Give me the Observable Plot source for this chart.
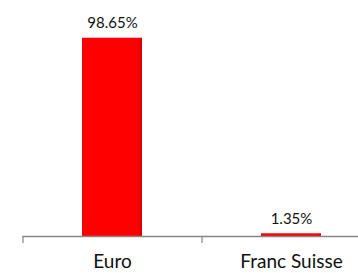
<!DOCTYPE html>
<html>
<head>
<meta charset="utf-8">
<script src="https://cdn.jsdelivr.net/npm/d3@7"></script>
<script src="https://cdn.jsdelivr.net/npm/@observablehq/plot@0.6"></script>
<style>
  html, body { margin: 0; padding: 0; background: #fff; overflow: hidden; width: 358px; height: 273px; }
  svg { max-width: none !important; }
</style>
</head>
<body>
<div id="chart"></div>
<script>
const categories = ["Euro", "Franc Suisse"];
const values = [98.65, 1.35];
const labels = ["98.65%", "1.35%"];

const data = categories.map((c, i) => ({cat: c, value: values[i], label: labels[i]}));

const font = "Lato, 'Open Sans', sans-serif";
const chart = Plot.plot({
  width: 381,
  height: 273,
  marginLeft: 22.5,
  marginRight: 0.5,
  marginTop: 35,
  marginBottom: 37,
  style: {fontFamily: font, background: "#fff", maxWidth: "none", fontWeight: "normal"},
  x: {domain: categories, paddingInner: 0.665, paddingOuter: 0.3325, axis: null, label: null},
  y: {domain: [0, 100], axis: null},
  marks: [
    Plot.barY(data, {x: "cat", y: "value", fill: "url(#barGrad)"}),
    Plot.ruleY([0], {stroke: "#868686", strokeWidth: 1.5}),
    Plot.axisX({tickSize: 7, stroke: "#868686", strokeWidth: 1.2, text: null, label: null, dx: -89.5}),
    Plot.axisX({tickSize: 0, tickPadding: 18, fontSize: 19, fill: "#111", fontFamily: font, label: null}),
    Plot.text(data, {x: "cat", y: "value", text: "label", lineAnchor: "bottom", dy: -10, fontSize: 15, fill: "#111", fontFamily: font})
  ]
});

const svgNS = "http://www.w3.org/2000/svg";
const defs = document.createElementNS(svgNS, "defs");
defs.innerHTML = `<linearGradient id="barGrad" x1="0" x2="1" y1="0" y2="0">
  <stop offset="0" stop-color="#f20000"/>
  <stop offset="0.08" stop-color="#ff0000"/>
  <stop offset="0.92" stop-color="#ff0000"/>
  <stop offset="1" stop-color="#d40000"/>
</linearGradient>`;
chart.insertBefore(defs, chart.firstChild);
document.getElementById("chart").appendChild(chart);
</script>
</body>
</html>
